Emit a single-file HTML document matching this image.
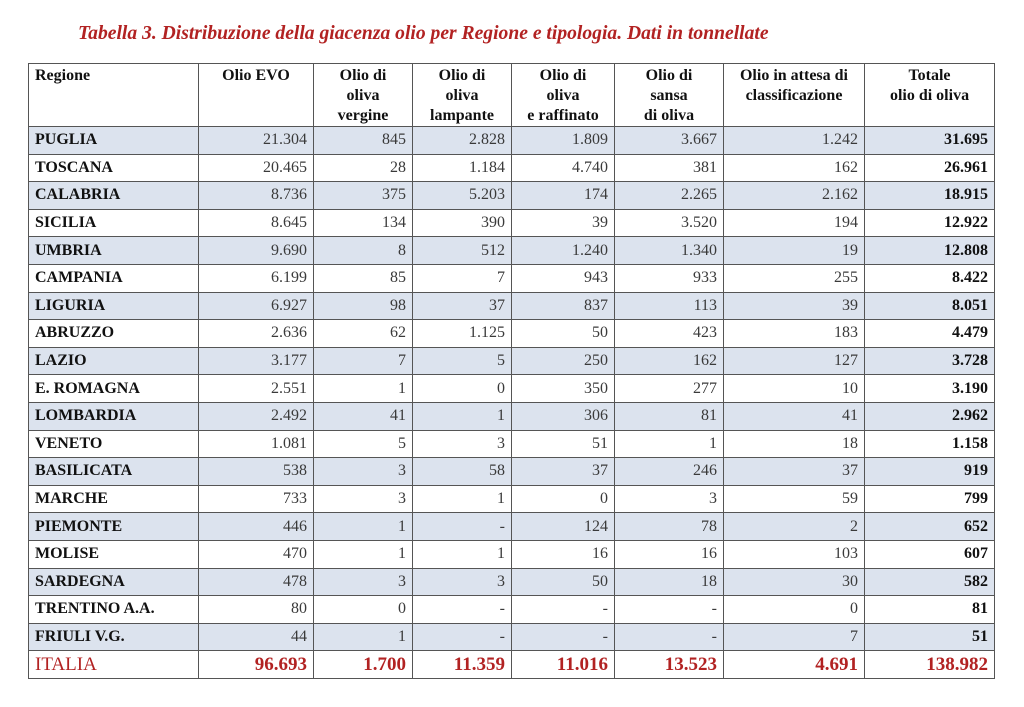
<!DOCTYPE html>
<html><head><meta charset="utf-8">
<style>
html,body{margin:0;padding:0;background:#fff;width:1024px;height:707px;overflow:hidden}
#title{position:absolute;left:78px;top:23px;font-style:italic;font-weight:bold;font-size:19.6px;font-family:"Liberation Serif",serif;color:#b22222;white-space:nowrap}
table{position:absolute;left:28px;top:63px;border-collapse:collapse;table-layout:fixed;width:966px;font-family:"Liberation Serif",serif;font-size:16px}
td,th{border:1.5px solid #555;padding:0 6px;height:26.6px;line-height:20px}
th{font-weight:bold;vertical-align:top;text-align:center;height:58px;padding-top:2px;line-height:20px;color:#111}
th.l{text-align:left}
td{text-align:right;color:#3a3a3a}
td.r{text-align:left;font-weight:bold;color:#111}
td.t{font-weight:bold;color:#111}
tr.s td{background:#dce3ee}
tr.it td{color:#b22222;font-weight:bold;font-size:19px;background:#fff}
tr.it td.r{color:#b22222;font-weight:normal}
</style></head><body>
<div id="title">Tabella 3. Distribuzione della giacenza olio per Regione e tipologia. Dati in tonnellate</div>
<table>
<colgroup><col style="width:170px"><col style="width:115px"><col style="width:99px"><col style="width:99px"><col style="width:103px"><col style="width:109px"><col style="width:141px"><col style="width:130px"></colgroup>
<thead><tr>
<th class="l">Regione</th>
<th>Olio EVO</th>
<th>Olio di<br>oliva<br>vergine</th>
<th>Olio di<br>oliva<br>lampante</th>
<th>Olio di<br>oliva<br>e raffinato</th>
<th>Olio di<br>sansa<br>di oliva</th>
<th>Olio in attesa di<br>classificazione</th>
<th>Totale<br>olio di oliva</th>
</tr></thead>
<tbody id="tb"></tbody>
</table>
<script>
const regions=["PUGLIA","TOSCANA","CALABRIA","SICILIA","UMBRIA","CAMPANIA","LIGURIA","ABRUZZO","LAZIO","E. ROMAGNA","LOMBARDIA","VENETO","BASILICATA","MARCHE","PIEMONTE","MOLISE","SARDEGNA","TRENTINO A.A.","FRIULI V.G."];
const evo=["21.304","20.465","8.736","8.645","9.690","6.199","6.927","2.636","3.177","2.551","2.492","1.081","538","733","446","470","478","80","44"];
const vergine=["845","28","375","134","8","85","98","62","7","1","41","5","3","3","1","1","3","0","1"];
const lampante=["2.828","1.184","5.203","390","512","7","37","1.125","5","0","1","3","58","1","-","1","3","-","-"];
const raffinato=["1.809","4.740","174","39","1.240","943","837","50","250","350","306","51","37","0","124","16","50","-","-"];
const sansa=["3.667","381","2.265","3.520","1.340","933","113","423","162","277","81","1","246","3","78","16","18","-","-"];
const attesa=["1.242","162","2.162","194","19","255","39","183","127","10","41","18","37","59","2","103","30","0","7"];
const totale=["31.695","26.961","18.915","12.922","12.808","8.422","8.051","4.479","3.728","3.190","2.962","1.158","919","799","652","607","582","81","51"];
const italia=["ITALIA","96.693","1.700","11.359","11.016","13.523","4.691","138.982"];
const tb=document.getElementById('tb');
function cell(tr,txt,cls,name){const td=document.createElement('td');td.textContent=txt;if(cls)td.className=cls;


tr.appendChild(td);}
const keys=["evo","vergine","lampante","raffinato","sansa","attesa"];
regions.forEach((r,i)=>{const tr=document.createElement('tr');if(i%2===0)tr.className='s';


cell(tr,r,'r','region-name');
[evo,vergine,lampante,raffinato,sansa,attesa].forEach((a,j)=>cell(tr,a[i],'','cell-'+keys[j]));
cell(tr,totale[i],'t','cell-totale');
tb.appendChild(tr);});
const tr=document.createElement('tr');tr.className='it';


italia.forEach((v,j)=>cell(tr,v,j===0?'r':'',j===0?'region-name':'italia-total'));
tb.appendChild(tr);
</script>
</body></html>
